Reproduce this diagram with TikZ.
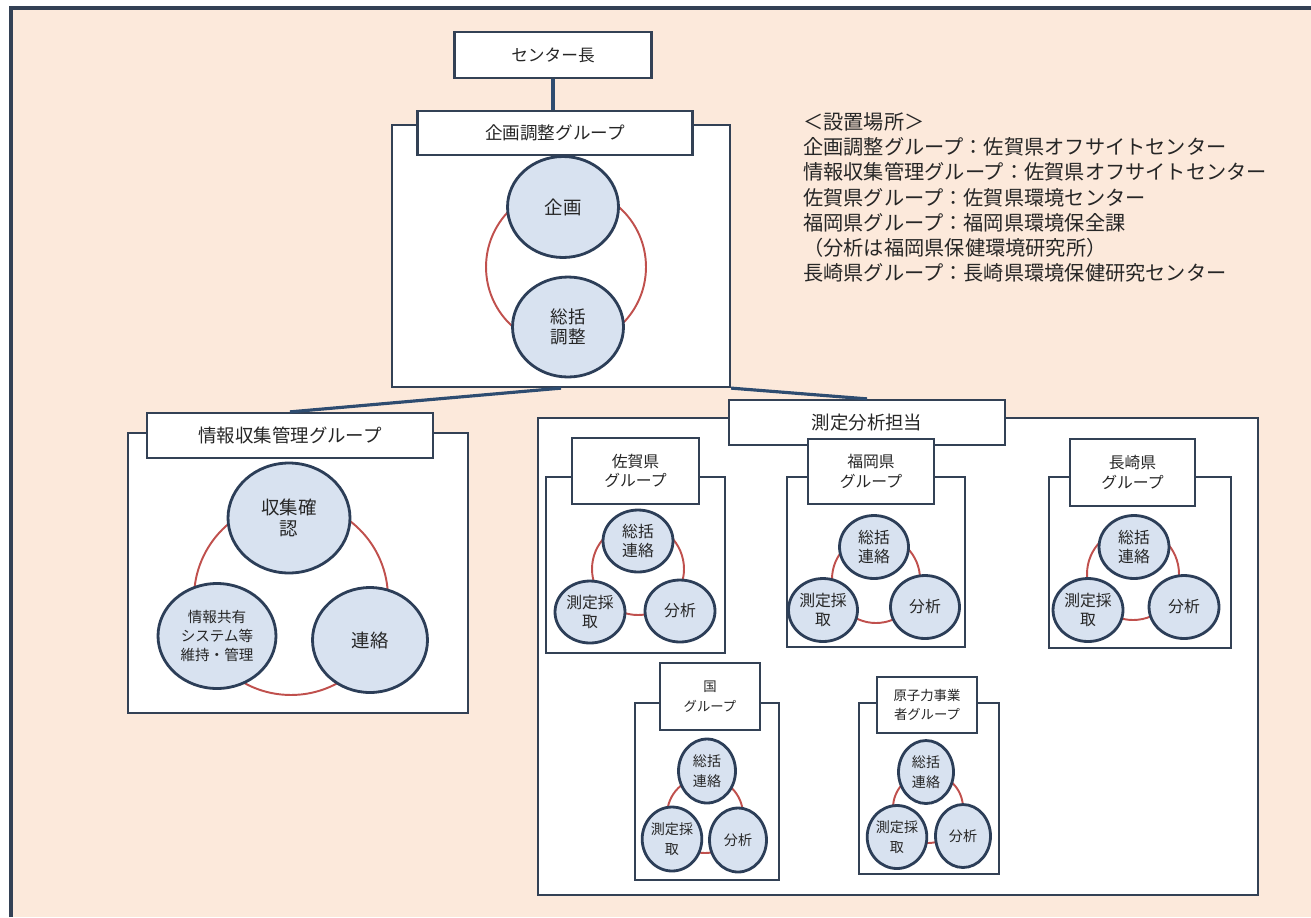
\documentclass[tikz,border=0pt]{standalone}
\usepackage{fontspec}
\setmainfont{Noto Sans CJK JP}
\usepackage{tikz}
\usetikzlibrary{shapes.geometric,positioning}

\definecolor{peach}{HTML}{FCE9DB}
\definecolor{boxline}{HTML}{334155}
\definecolor{circfill}{HTML}{D8E2F0}
\definecolor{circline}{HTML}{2C3E58}
\definecolor{ringred}{HTML}{C0504D}
\definecolor{linkblue}{HTML}{2E4C70}
\definecolor{textgray}{HTML}{262626}

\tikzset{
  labelbox/.style={draw=boxline, line width=1.3pt, fill=white, align=center, inner sep=0pt, text=textgray},
  groupframe/.style={draw=boxline, line width=1.3pt, fill=white, inner sep=0pt},
  member/.style={ellipse, draw=circline, line width=1.6pt, fill=circfill, align=center, inner sep=0pt, text=textgray},
  ring/.style={draw=ringred, line width=1.1pt},
  link/.style={draw=linkblue, line width=1.8pt}
}

\begin{document}
\begin{tikzpicture}[x=0.02cm, y=-0.02cm]
    % Page and outer frame
    \useasboundingbox (0,0) rectangle (1311,917);
    \fill[white] (0,0) rectangle (1311,917);
    \fill[peach] (11,8) rectangle (1311,917);
    \draw[boxline, line width=2pt] (11,917) -- (11,8) -- (1311,8);

    % Group frames
    \node[groupframe, minimum width=6.76cm, minimum height=5.24cm] (kikakuframe) at (561,256) {};
    \node[groupframe, minimum width=6.8cm, minimum height=5.6cm] (johoframe) at (298,573) {};
    \node[groupframe, minimum width=14.4cm, minimum height=9.54cm] (sokuteiframe) at (898,656.5) {};

    % Head of center
    \node[labelbox, minimum width=3.94cm, minimum height=0.92cm, font=\fontsize{9.5}{11}\selectfont] (chief) at (553,55) {センター長};

    % Group labels
    \node[labelbox, minimum width=5.5cm, minimum height=0.88cm, font=\fontsize{10}{12}\selectfont] (kikaku) at (555,133) {企画調整グループ};
    \node[labelbox, minimum width=5.72cm, minimum height=0.9cm, font=\fontsize{10.5}{12}\selectfont] (joho) at (290,435.5) {情報収集管理グループ};
    \node[labelbox, minimum width=5.52cm, minimum height=0.9cm, font=\fontsize{10.5}{12}\selectfont] (sokutei) at (867,422.5) {測定分析担当};

    % Connectors
    \draw[link] (chief.south) -- (chief.south |- kikaku.north);
    \draw[link] (kikakuframe.south) -- (joho.north);
    \draw[link] (kikakuframe.south east) -- (sokutei.north);

    % Planning group members
    \draw[ring] (566,267) circle (1.6cm);
    \node[member, minimum width=2.22cm, minimum height=2.02cm, font=\fontsize{10.5}{12}\selectfont] (kikaku-a) at (563,207) {企画};
    \node[member, minimum width=2.22cm, minimum height=2.0cm, font=\fontsize{10}{11.5}\selectfont] (kikaku-b) at (568,327) {総括\\調整};

    % Information group members
    \draw[ring] (291,598) circle (1.94cm);
    \node[member, minimum width=2.44cm, minimum height=2.2cm, font=\fontsize{10.5}{12}\selectfont] (joho-a) at (289,518) {収集確\\認};
    \node[member, minimum width=2.36cm, minimum height=2.1cm, font=\fontsize{8.3}{10.8}\selectfont] (joho-b) at (217,636) {情報共有\\システム等\\維持・管理};
    \node[member, minimum width=2.3cm, minimum height=2.1cm, font=\fontsize{10.5}{12}\selectfont] (joho-c) at (370,640) {連絡};

    % Measuring groups: frames and labels
    \foreach \n/\fx/\fy/\fw/\fh/\lx/\ly/\lw/\lh/\fs/\txt in {
        saga/635.5/565/3.58cm/3.52cm/635.5/471/2.54cm/1.32cm/9/{佐賀県\\グループ},
        fukuoka/876/562/3.56cm/3.4cm/871/471.5/2.52cm/1.3cm/9/{福岡県\\グループ},
        nagasaki/1140/562.5/3.64cm/3.42cm/1132.5/472.5/2.5cm/1.34cm/9/{長崎県\\グループ},
        kuni/707/791.5/2.88cm/3.54cm/710/696.5/2cm/1.34cm/7.6/{国\\グループ},
        genshi/929/788.5/2.8cm/3.42cm/927/705/2cm/1.12cm/7.6/{原子力事業\\者グループ}}
    {
        \node[groupframe, minimum width=\fw, minimum height=\fh] (\n frame) at (\fx,\fy) {};
        \node[labelbox, minimum width=\lw, minimum height=\lh, font=\fontsize{\fs}{11}\selectfont] (\n) at (\lx,\ly) {\txt};
    }

    % Measuring groups: members
    \foreach \n/\tx/\ty/\lx/\ly/\rx/\ry/\cx/\cy/\r/\w/\h/\fs in {
        saga/638/541/590/612/680/611/638/569/0.92cm/1.4cm/1.24cm/9,
        fukuoka/874/547/823/610/925/607/876/579/0.88cm/1.38cm/1.26cm/9,
        nagasaki/1134/547/1088/610/1184/607/1133/574/0.92cm/1.4cm/1.26cm/9,
        kuni/707/771/672/839/738/840/705/815/0.76cm/1.14cm/1.28cm/8,
        genshi/926/772/897/837/963/836/928/808/0.7cm/1.1cm/1.26cm/8}
    {
        \draw[ring] (\cx,\cy) circle (\r);
        \node[member, minimum width=\w, minimum height=\h, font=\fontsize{\fs}{11}\selectfont] (\n-top) at (\tx,\ty) {総括\\連絡};
        \node[member, minimum width=\w, minimum height=\h, font=\fontsize{\fs}{11}\selectfont] (\n-left) at (\lx,\ly) {測定採\\取};
        \node[member, minimum width=\w, minimum height=\h, font=\fontsize{\fs}{11}\selectfont] (\n-right) at (\rx,\ry) {分析};
    }

    % Locations
    \node[anchor=north west, align=left, inner sep=0pt, text=textgray, font=\fontsize{11.5}{14.4}\selectfont] (places) at (803,112) {＜設置場所＞\\企画調整グループ：佐賀県オフサイトセンター\\情報収集管理グループ：佐賀県オフサイトセンター\\佐賀県グループ：佐賀県環境センター\\福岡県グループ：福岡県環境保全課\\（分析は福岡県保健環境研究所）\\長崎県グループ：長崎県環境保健研究センター};
\end{tikzpicture}
\end{document}
